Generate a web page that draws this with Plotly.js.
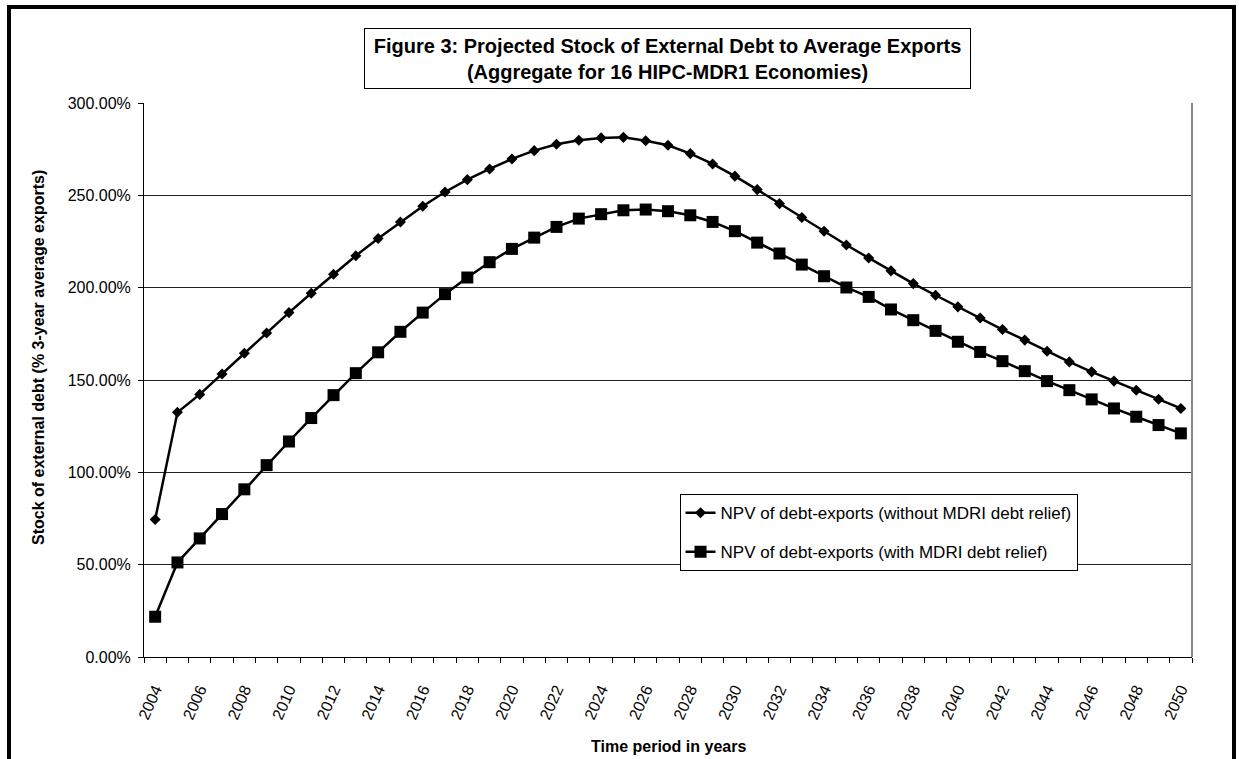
<!DOCTYPE html>
<html>
<head>
<meta charset="utf-8">
<script src="https://cdn.plot.ly/plotly-3.0.1.min.js"></script>
<style>
  html, body { margin: 0; padding: 0; width: 1239px; height: 759px; overflow: hidden; background: #fff; }
  #chart { position: absolute; left: 0; top: 0; width: 1239px; height: 759px; }
  #frame { position: absolute; left: 7px; top: 5px; width: 1221px; height: 800px; border: 4px solid #000; pointer-events: none; }
</style>
</head>
<body>
<div id="chart"></div>
<div id="frame"></div>
<script>
const years = [2004, 2005, 2006, 2007, 2008, 2009, 2010, 2011, 2012, 2013,
  2014, 2015, 2016, 2017, 2018, 2019, 2020, 2021, 2022, 2023,
  2024, 2025, 2026, 2027, 2028, 2029, 2030, 2031, 2032, 2033,
  2034, 2035, 2036, 2037, 2038, 2039, 2040, 2041, 2042, 2043,
  2044, 2045, 2046, 2047, 2048, 2049, 2050];

const withoutMDRI = [74.5, 132.5, 142.2, 153.3, 164.5, 175.5, 186.5, 197.0, 207.3, 217.3,
  226.6, 235.6, 244.1, 251.8, 258.5, 264.3, 269.7, 274.2, 277.7, 279.8,
  281.1, 281.4, 279.6, 277.1, 272.6, 267.0, 260.4, 253.1, 245.5, 238.0,
  230.6, 223.1, 216.1, 209.1, 202.2, 195.9, 189.6, 183.6, 177.3, 171.6,
  165.6, 159.8, 154.4, 149.4, 144.5, 139.6, 134.6];

const withMDRI = [21.8, 51.2, 64.2, 77.4, 90.8, 103.9, 116.7, 129.4, 141.8, 153.7,
  165.0, 176.1, 186.5, 196.5, 205.5, 213.8, 221.0, 227.1, 232.9, 237.4,
  239.8, 241.9, 242.3, 241.4, 239.2, 235.6, 230.6, 224.4, 218.5, 212.5,
  206.2, 200.1, 195.0, 188.2, 182.4, 176.6, 170.7, 165.2, 160.2, 154.8,
  149.4, 144.5, 139.5, 134.6, 130.1, 125.6, 121.1];

const seriesNames = ["NPV of debt-exports (without MDRI debt relief)",
                     "NPV of debt-exports (with MDRI debt relief)"];

const xTickYears = [2004, 2006, 2008, 2010, 2012, 2014, 2016, 2018, 2020, 2022,
  2024, 2026, 2028, 2030, 2032, 2034, 2036, 2038, 2040, 2042, 2044, 2046, 2048, 2050];
const xTickLabels = xTickYears.map(String);

const titleLines = ["Figure 3: Projected Stock of External Debt to Average Exports",
                    "(Aggregate for 16 HIPC-MDR1 Economies)"];
const xTitle = "Time period in years";
const yTitle = "Stock of external debt (% 3-year average exports)";

const FONT = "Liberation Sans, Arial, Helvetica, sans-serif";

const traces = [
  {
    x: years, y: withoutMDRI, name: seriesNames[0], type: "scatter", mode: "lines+markers",
    line: { color: "#000", width: 2.5 },
    marker: { symbol: "diamond", size: 8.5, color: "#000" },
    legendgroup: "a"
  },
  {
    x: years, y: withMDRI, name: seriesNames[1], type: "scatter", mode: "lines+markers",
    line: { color: "#000", width: 2.5 },
    marker: { symbol: "square", size: 12, color: "#000" },
    legendgroup: "b"
  }
];

const layout = {
  width: 1239, height: 759,
  margin: { l: 144, r: 47, t: 103, b: 102 },
  paper_bgcolor: "rgba(0,0,0,0)",
  plot_bgcolor: "#fff",
  font: { family: FONT, color: "#000", size: 16 },
  showlegend: true,
  legend: {
    x: 0.511, y: 0.294, xanchor: "left", yanchor: "top",
    bgcolor: "#fff", bordercolor: "#000", borderwidth: 1,
    font: { family: FONT, size: 17, color: "#000" },
    traceorder: "grouped", tracegroupgap: 14
  },
  xaxis: {
    type: "linear",
    range: [years[0] - 0.5, years[years.length - 1] + 0.5],
    tickmode: "array", tickvals: xTickYears, ticktext: xTickLabels,
    tickangle: -66,
    ticks: "outside", ticklen: 6, tickcolor: "rgba(0,0,0,0)",
    ticklabelstandoff: 10,
    tickfont: { family: FONT, size: 16, color: "#000" },
    showgrid: false, zeroline: false,
    showline: true, linecolor: "#000", linewidth: 1,
    minor: {
      tickmode: "array",
      tickvals: years.concat([years[years.length - 1] + 1]).map(v => v - 0.5),
      ticks: "outside", ticklen: 5, tickcolor: "#000", tickwidth: 1, showgrid: false
    },
    fixedrange: true
  },
  yaxis: {
    range: [0, 300], dtick: 50, tick0: 0,
    tickformat: ".2f", ticksuffix: "%",
    ticks: "outside", ticklen: 5, tickcolor: "#000",
    ticklabelstandoff: 4,
    tickfont: { family: FONT, size: 16, color: "#000" },
    showgrid: true, gridcolor: "#222", gridwidth: 1,
    zeroline: false,
    showline: true, linecolor: "#000", linewidth: 1,
    fixedrange: true
  },
  shapes: [
    { type: "line", xref: "paper", yref: "paper", x0: 1, x1: 1, y0: 0, y1: 1,
      line: { color: "#888", width: 2 } }
  ],
  annotations: [
    {
      xref: "paper", yref: "paper", x: 0.4995, y: 1.081, xanchor: "center", yanchor: "middle",
      text: "<b>" + titleLines[0] + "</b><br><b>" + titleLines[1] + "</b>",
      showarrow: false, align: "center",
      font: { family: FONT, size: 20, color: "#000" },
      bordercolor: "#000", borderwidth: 1, borderpad: 1, bgcolor: "#fff",
      width: 603, height: 57
    },
    {
      xref: "paper", yref: "paper", x: 0.5, y: -0.162, xanchor: "center", yanchor: "middle",
      text: "<b>" + xTitle + "</b>", showarrow: false,
      font: { family: FONT, size: 16, color: "#000" }
    },
    {
      xref: "paper", yref: "paper", x: -0.1, y: 0.54, xanchor: "center", yanchor: "middle",
      text: "<b>" + yTitle + "</b>", showarrow: false, textangle: -90,
      font: { family: FONT, size: 16, color: "#000" }
    }
  ]
};

Plotly.newPlot("chart", traces, layout, { displayModeBar: false, staticPlot: true });
</script>
</body>
</html>
